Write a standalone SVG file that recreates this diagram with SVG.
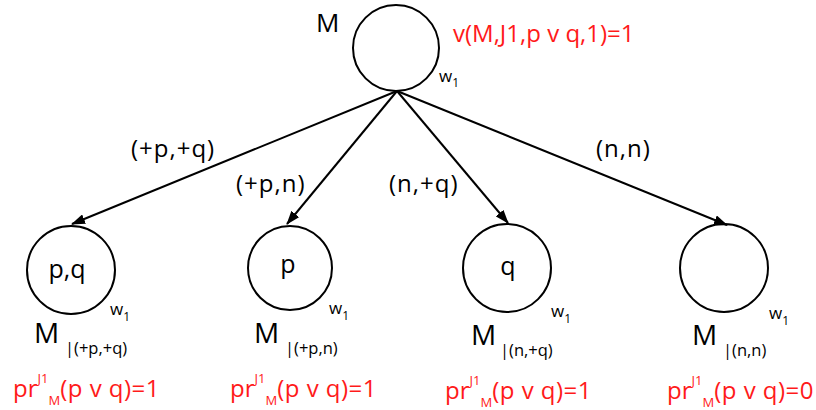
<svg xmlns="http://www.w3.org/2000/svg" width="816" height="410" viewBox="0 0 816 410">
<defs>
<style>
.c{fill:none;stroke:#000;stroke-width:2}
.t{font-family:"Open Sans","Liberation Sans",sans-serif;fill:#000}
.r{font-family:"Open Sans","Liberation Sans",sans-serif;fill:#ff1a1a}
.e{stroke:#000;stroke-width:2;fill:none;marker-end:url(#ah)}
.lbl{font-size:24px;letter-spacing:1px}
.in{font-size:25px}
.big{font-size:28px}
.w{font-size:17px}
.ws{font-size:12px}
.sub{font-size:16.5px}
.pr{font-size:24px}
.sm{font-size:13px}
</style>
<marker id="ah" markerWidth="14" markerHeight="10" refX="13" refY="5" orient="auto" markerUnits="userSpaceOnUse">
<path d="M0,0 L14,5 L0,10 z" fill="#000"/>
</marker>
</defs>
<rect width="816" height="410" fill="#fff"/>
<g id="connectors">
<line class="e" x1="397" y1="91" x2="72" y2="224"/>
<line class="e" x1="397" y1="91" x2="287" y2="224"/>
<line class="e" x1="397" y1="91" x2="508" y2="223"/>
<line class="e" x1="397" y1="91" x2="727" y2="225"/>
<text class="t lbl" x="131" y="157">(+p,+q)</text>
<text class="t lbl" x="236" y="192">(+p,n)</text>
<text class="t lbl" x="389" y="192">(n,+q)</text>
<text class="t lbl" x="596" y="157">(n,n)</text>
</g>
<g id="root">
<circle class="c" cx="396" cy="48" r="43"/>
<text class="t" x="316" y="32" font-size="26">M</text>
<text class="r" x="453" y="42" font-size="24">v(M,J1,p v q,1)=1</text>
<text class="t w" x="439" y="82">w<tspan class="ws" dy="5">1</tspan></text>
</g>
<g id="n1">
<circle class="c" cx="71" cy="270" r="44"/>
<text class="t in" x="67" y="278" text-anchor="middle">p,q</text>
<text class="t w" x="110" y="315">w<tspan class="ws" dy="6">1</tspan></text>
<text class="t big" x="34" y="343">M</text>
<text class="t sub" x="65" y="354">|(+p,+q)</text>
<text class="r pr" x="13" y="397">pr<tspan class="sm" dy="-14">J1</tspan><tspan class="sm" dy="22">M</tspan><tspan dy="-8" letter-spacing="0.5">(p v q)=1</tspan></text>
</g>
<g id="n2">
<circle class="c" cx="290" cy="268" r="42"/>
<text class="t in" x="288" y="273" text-anchor="middle">p</text>
<text class="t w" x="329" y="314">w<tspan class="ws" dy="6">1</tspan></text>
<text class="t big" x="254" y="343">M</text>
<text class="t sub" x="285" y="354">|(+p,n)</text>
<text class="r pr" x="230" y="397">pr<tspan class="sm" dy="-14">J1</tspan><tspan class="sm" dy="22">M</tspan><tspan dy="-8" letter-spacing="0.5">(p v q)=1</tspan></text>
</g>
<g id="n3">
<circle class="c" cx="507" cy="268" r="44"/>
<text class="t in" x="508" y="275" text-anchor="middle">q</text>
<text class="t w" x="551" y="317">w<tspan class="ws" dy="6">1</tspan></text>
<text class="t big" x="471" y="345">M</text>
<text class="t sub" x="500" y="356">|(n,+q)</text>
<text class="r pr" x="445" y="399">pr<tspan class="sm" dy="-14">J1</tspan><tspan class="sm" dy="22">M</tspan><tspan dy="-8" letter-spacing="0.5">(p v q)=1</tspan></text>
</g>
<g id="n4">
<circle class="c" cx="724" cy="268" r="44"/>
<text class="t w" x="769" y="319">w<tspan class="ws" dy="6">1</tspan></text>
<text class="t big" x="692" y="345">M</text>
<text class="t sub" x="723" y="356">|(n,n)</text>
<text class="r pr" x="667" y="399">pr<tspan class="sm" dy="-14">J1</tspan><tspan class="sm" dy="22">M</tspan><tspan dy="-8" letter-spacing="0.5">(p v q)=0</tspan></text>
</g>
</svg>
